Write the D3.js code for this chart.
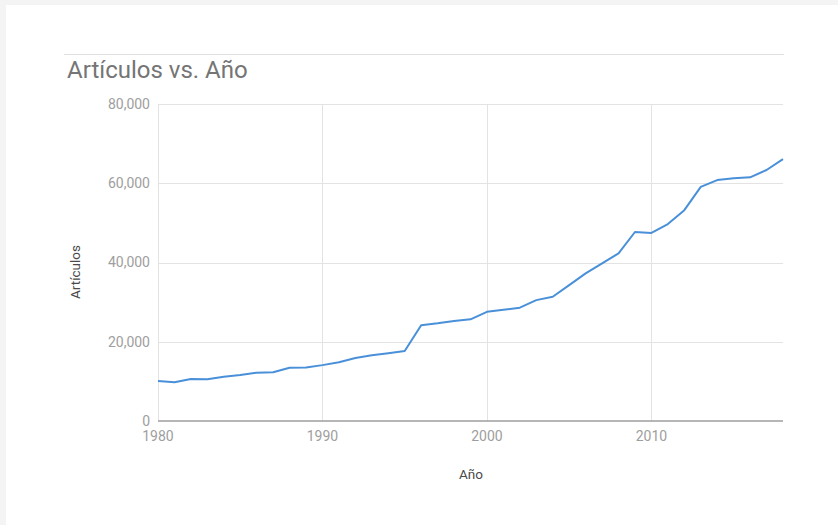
<!DOCTYPE html>
<html>
<head>
<meta charset="utf-8">
<script src="https://cdn.jsdelivr.net/npm/d3@7"></script>
<style>
  html, body { margin: 0; padding: 0; background: #f4f4f4; }
  svg { display: block; }
</style>
</head>
<body>
<div id="chart"></div>
<script>
// articulos por año

var years = [1980, 1981, 1982, 1983, 1984, 1985, 1986, 1987, 1988, 1989,
             1990, 1991, 1992, 1993, 1994, 1995, 1996, 1997, 1998, 1999,
             2000, 2001, 2002, 2003, 2004, 2005, 2006, 2007, 2008, 2009,
             2010, 2011, 2012, 2013, 2014, 2015, 2016, 2017, 2018];
var articulos = [10100, 9800, 10600, 10550, 11150, 11600, 12200, 12300, 13450, 13500,
                 14100, 14850, 15900, 16600, 17100, 17650, 24150, 24650, 25250, 25650,
                 27550, 28050, 28600, 30500, 31350, 34300, 37250, 39800, 42300, 47700,
                 47450, 49700, 53200, 59100, 60800, 61250, 61500, 63350, 66100];
var yTicks = [0, 20000, 40000, 60000, 80000];
var xTicks = [1980, 1990, 2000, 2010];

var W = 838, H = 525;
var margin = {left: 158, right: 55, top: 104, bottom: 104};

var svg = d3.select("#chart").append("svg")
    .attr("width", W)
    .attr("height", H)
    .style("font-family", "Roboto, sans-serif");

// white card
svg.append("rect")
    .attr("x", 6).attr("y", 5)
    .attr("width", W - 6).attr("height", H - 5)
    .attr("fill", "#fff");

// top rule + title
svg.append("line")
    .attr("x1", 64).attr("x2", 784)
    .attr("y1", 54.5).attr("y2", 54.5)
    .attr("stroke", "#e0e0e0");

svg.append("text")
    .attr("x", 67).attr("y", 78)
    .attr("fill", "#757575")
    .style("font-size", "24px")
    .text("Artículos vs. Año");

var x = d3.scaleLinear().domain([1980, 2018]).range([margin.left, W - margin.right]);
var y = d3.scaleLinear().domain([0, 80000]).range([421, 104]);

// grid
svg.append("g").selectAll("line").data(yTicks.slice(1)).enter().append("line")
    .attr("x1", x(1980)).attr("x2", x(2018))
    .attr("y1", d => Math.round(y(d)) + 0.5).attr("y2", d => Math.round(y(d)) + 0.5)
    .attr("stroke", "#e3e3e3");

svg.append("g").selectAll("line").data(xTicks).enter().append("line")
    .attr("x1", d => Math.round(x(d)) + 0.5).attr("x2", d => Math.round(x(d)) + 0.5)
    .attr("y1", y(80000)).attr("y2", y(0))
    .attr("stroke", "#e3e3e3");

// baseline
svg.append("line")
    .attr("x1", x(1980)).attr("x2", x(2018))
    .attr("y1", y(0)).attr("y2", y(0))
    .attr("stroke", "#9e9e9e")
    .attr("stroke-width", 1.5);

// y tick labels
var fmt = d3.format(",");
svg.append("g").selectAll("text").data(yTicks).enter().append("text")
    .attr("x", 150)
    .attr("y", d => y(d))
    .attr("dy", "0.35em")
    .attr("text-anchor", "end")
    .attr("fill", "#9e9e9e")
    .style("font-size", "14px")
    .text(d => fmt(d));

// x tick labels
svg.append("g").selectAll("text").data(xTicks).enter().append("text")
    .attr("x", d => x(d))
    .attr("y", 441)
    .attr("text-anchor", "middle")
    .attr("fill", "#9e9e9e")
    .style("font-size", "14px")
    .text(d => d);

// axis titles
svg.append("text")
    .attr("transform", "translate(80,272) rotate(-90)")
    .attr("text-anchor", "middle")
    .attr("fill", "#4a4a4a")
    .style("font-size", "13.5px")
    .text("Artículos");

svg.append("text")
    .attr("x", 471).attr("y", 479)
    .attr("text-anchor", "middle")
    .attr("fill", "#4a4a4a")
    .style("font-size", "13.5px")
    .text("Año");

// line
var line = d3.line()
    .x((d, i) => x(years[i]))
    .y(d => y(d));

svg.append("path")
    .datum(articulos)
    .attr("d", line)
    .attr("fill", "none")
    .attr("stroke", "#4a90d9")
    .attr("stroke-width", 2)
    .attr("stroke-linejoin", "round");
</script>
</body>
</html>
